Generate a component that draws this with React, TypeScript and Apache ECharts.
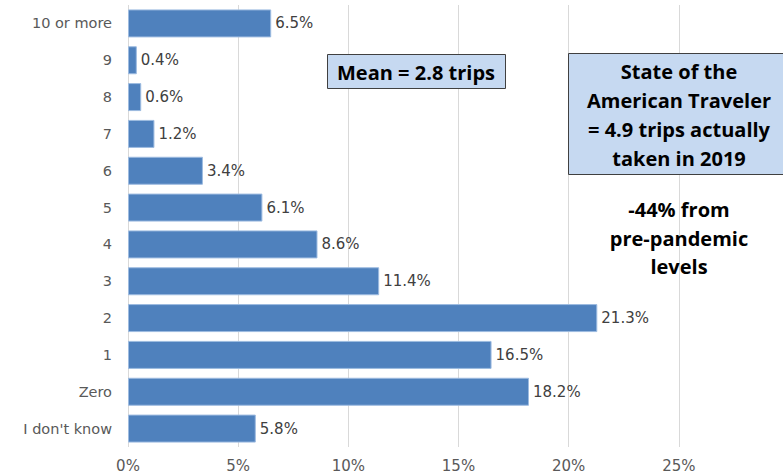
import React, { useEffect, useRef } from "react";
import * as echarts from "echarts";

const categories = ["10 or more", "9", "8", "7", "6", "5", "4", "3", "2", "1", "Zero", "I don't know"];
const values = [6.5, 0.4, 0.6, 1.2, 3.4, 6.1, 8.6, 11.4, 21.3, 16.5, 18.2, 5.8];
const meanText = "Mean = 2.8 trips";
const stateText = "State of the\nAmerican Traveler\n= 4.9 trips actually\ntaken in 2019";
const changeText = "-44% from\npre-pandemic\nlevels";

const FONT = "'DejaVu Sans', sans-serif";
const BFONT = "'Open Sans', 'DejaVu Sans', sans-serif";

export default function App() {
  const ref = useRef<HTMLDivElement>(null);
  useEffect(() => {
    document.body.style.margin = "0";
    document.body.style.overflow = "hidden";
    document.documentElement.style.overflow = "hidden";
    if (!ref.current) return;
    const chart = echarts.init(ref.current, undefined, { renderer: "svg" });
    chart.setOption({
      animation: false,
      backgroundColor: "#ffffff",
      textStyle: { fontFamily: FONT },
      grid: { left: 128, right: 0, top: 5, bottom: 28, containLabel: false },
      xAxis: {
        type: "value",
        min: 0,
        max: 30,
        interval: 5,
        axisLine: { show: false },
        axisTick: { show: false },
        axisLabel: { formatter: "{value}%", color: "#595959", fontSize: 15, margin: 11, fontFamily: FONT, showMaxLabel: false },
        splitLine: { show: true, lineStyle: { color: "#d9d9d9", width: 1 } },
      },
      yAxis: {
        type: "category",
        data: categories,
        inverse: true,
        axisLine: { show: false },
        axisTick: { show: false },
        axisLabel: { color: "#595959", fontSize: 14.5, margin: 16, fontFamily: FONT },
      },
      series: [
        {
          type: "bar",
          data: values,
          barWidth: 28,
          itemStyle: { color: "#4f81bd", borderColor: "#9dbbe0", borderWidth: 1 },
          label: {
            show: true,
            position: "right",
            distance: 4,
            formatter: "{c}%",
            color: "#404040",
            fontSize: 15,
            fontFamily: FONT,
          },
        },
      ],
      graphic: [
        {
          type: "rect",
          z: 100,
          shape: { x: 327.5, y: 54.5, width: 178, height: 34 },
          style: { fill: "#c6d9f1", stroke: "#404040", lineWidth: 1 },
        },
        {
          type: "text",
          z: 101,
          x: 416,
          y: 72,
          style: { text: meanText, align: "center", verticalAlign: "middle", font: `bold 20px ${BFONT}`, fill: "#000000" },
        },
        {
          type: "rect",
          z: 100,
          shape: { x: 568.5, y: 53.5, width: 225, height: 121 },
          style: { fill: "#c6d9f1", stroke: "#404040", lineWidth: 1 },
        },
        {
          type: "text",
          z: 101,
          x: 679,
          y: 115,
          style: { text: stateText, align: "center", verticalAlign: "middle", font: `bold 20px ${BFONT}`, lineHeight: 29, fill: "#000000" },
        },
        {
          type: "text",
          z: 101,
          x: 679,
          y: 238,
          style: { text: changeText, align: "center", verticalAlign: "middle", font: `bold 20px ${BFONT}`, lineHeight: 28.5, fill: "#000000" },
        },
      ],
    });
    return () => chart.dispose();
  }, []);
  return <div ref={ref} style={{ width: 789, height: 475, position: "absolute", left: 0, top: 0 }} />;
}
